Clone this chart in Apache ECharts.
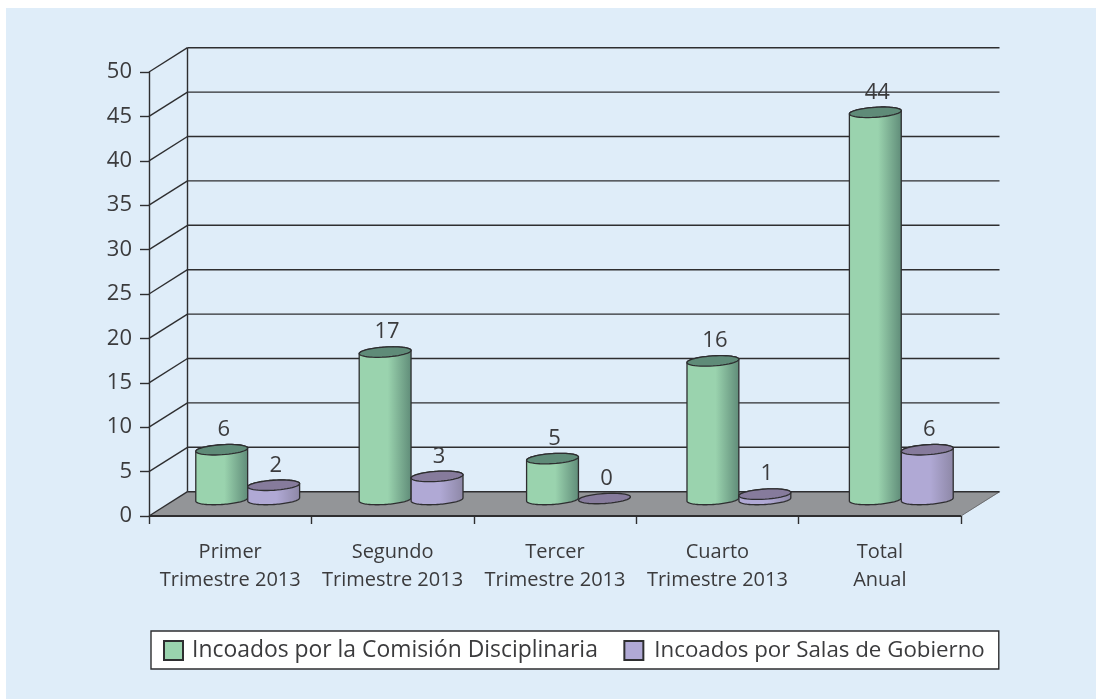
<!DOCTYPE html>
<html>
<head>
<meta charset="utf-8">
<title>Expedientes incoados 2013</title>
<style>
  html, body { margin: 0; padding: 0; background: #fff; }
  #panel { position: absolute; left: 6px; top: 8px; width: 1090px; height: 691px; background: #dfedf9; }
  #chart { position: absolute; left: 0; top: 0; width: 1096px; height: 699px; }
</style>
</head>
<body>
<div id="panel"></div>
<div id="chart"></div>
<script src="https://cdn.jsdelivr.net/npm/echarts@6/dist/echarts.min.js"></script>
<script>
const categories = ['Primer\nTrimestre 2013', 'Segundo\nTrimestre 2013', 'Tercer\nTrimestre 2013', 'Cuarto\nTrimestre 2013', 'Total\nAnual'];
const comision = [6, 17, 5, 16, 44];
const salas = [2, 3, 0, 1, 6];
const yTicks = [0, 5, 10, 15, 20, 25, 30, 35, 40, 45, 50];
const nameComision = 'Incoados por la Comisión Disciplinaria';
const nameSalas = 'Incoados por Salas de Gobierno';

const FONT = '"Open Sans", sans-serif';
const TEXT = '#3b3b3d';
const LINE = '#2e2e30';
// 3d look: how far the back wall sits from the front axes
const DEPTH_X = 38.5;
const DEPTH_Y = 24.3;
// cylinders stand part way into the floor
const BAR_DX = 17.5;
const BASE_DY = 16.5;
const TOP_DY = 13;
const TILT = -0.065;
// the pairs are not quite evenly spaced in the original
const PAIR_NUDGE = [0, 1, 6, 4, 4];

let chart = echarts.init(document.getElementById('chart'));

// points of a slightly tilted ellipse between two angles
function arc(cx, cy, rx, ry, from, to) {
  let pts = [];
  for (let i = 0; i <= 48; i++) {
    let a = from + (to - from) * i / 48;
    let px = rx * Math.cos(a);
    let py = ry * Math.sin(a);
    pts.push([cx + px * Math.cos(TILT) - py * Math.sin(TILT), cy + px * Math.sin(TILT) + py * Math.cos(TILT)]);
  }
  return pts;
}

function wallItem(params, api) {
  let sys = params.coordSys;
  let v = api.value(1);
  let y = api.coord([0, v])[1];
  let left = sys.x;
  let right = sys.x + sys.width;
  let lineStyle = { stroke: LINE, lineWidth: 1.4, fill: null };
  let children = [];
  if (v === 0) {
    children.push({
      type: 'polygon',
      shape: { points: [[left, y], [right, y], [right + DEPTH_X + 1, y - DEPTH_Y], [left + DEPTH_X, y - DEPTH_Y]] },
      style: { fill: '#939598', stroke: null }
    });
    children.push({ type: 'line', shape: { x1: left, y1: y, x2: right, y2: y }, style: { stroke: LINE, lineWidth: 2 } });
    children.push({ type: 'line', shape: { x1: right, y1: y, x2: right + DEPTH_X, y2: y - DEPTH_Y }, style: { stroke: '#6d6e71', lineWidth: 1 } });
    children.push({
      type: 'line',
      shape: { x1: left + DEPTH_X, y1: y - DEPTH_Y, x2: left + DEPTH_X, y2: sys.y - DEPTH_Y },
      style: { stroke: LINE, lineWidth: 1.4 }
    });
  }
  children.push({ type: 'line', shape: { x1: left, y1: y, x2: left + DEPTH_X, y2: y - DEPTH_Y }, style: lineStyle });
  children.push({ type: 'line', shape: { x1: left + DEPTH_X, y1: y - DEPTH_Y, x2: right + DEPTH_X, y2: y - DEPTH_Y }, style: lineStyle });
  return { type: 'group', children: children };
}

function cylinderItem(side, colors) {
  return function (params, api) {
    let idx = api.value(0);
    let v = api.value(1);
    let band = api.size([1, 0])[0];
    let w = band * 0.32;
    let rx = w / 2;
    let ry = 5;
    let p = api.coord([idx, v]);
    let base = api.coord([idx, 0])[1] - BASE_DY;
    let cx = p[0] + BAR_DX + PAIR_NUDGE[idx] + side * rx;
    let top = Math.min(p[1] - TOP_DY, base - 1);
    let stroke = { stroke: LINE, lineWidth: 1.3 };
    let children = [];
    if (v > 0) {
      children.push({
        type: 'polygon',
        shape: { points: arc(cx, top, rx, ry, Math.PI, 2 * Math.PI).concat(arc(cx, base, rx, ry, 0, Math.PI)) },
        style: Object.assign({
          fill: new echarts.graphic.LinearGradient(0, 0, 1, 0, [
            { offset: 0, color: colors.side },
            { offset: 0.55, color: colors.side },
            { offset: 1, color: colors.shade }
          ])
        }, stroke)
      });
    }
    children.push({
      type: 'polygon',
      shape: { points: arc(cx, top, rx, ry, 0, 2 * Math.PI) },
      style: Object.assign({ fill: colors.top }, stroke)
    });
    children.push({
      type: 'text',
      style: {
        x: cx + 2, y: top - 20, text: String(v), align: 'center', verticalAlign: 'middle',
        fill: TEXT, font: '22px ' + FONT
      }
    });
    return { type: 'group', children: children };
  };
}

function points(values) {
  return values.map((v, i) => [i, v]);
}

let option = {
  animation: false,
  textStyle: { fontFamily: FONT },
  grid: { left: 149, right: 135, top: 72, bottom: 183 },
  xAxis: {
    type: 'category',
    data: categories,
    z: 3,
    axisLine: { show: false },
    axisTick: { show: true, length: 8, lineStyle: { color: LINE, width: 1.4 } },
    axisLabel: { color: TEXT, fontSize: 20, lineHeight: 28, margin: 22, interval: 0, fontFamily: FONT }
  },
  yAxis: {
    type: 'value',
    min: 0,
    max: 50,
    interval: 5,
    z: 3,
    splitLine: { show: false },
    axisLine: { show: true, lineStyle: { color: LINE, width: 1.4 } },
    axisTick: { show: true, length: 9, lineStyle: { color: LINE, width: 1.4 } },
    axisLabel: { color: TEXT, fontSize: 22, margin: 17, fontFamily: FONT }
  },
  legend: {
    left: 151,
    top: 631,
    padding: [8, 14, 7, 12],
    itemGap: 25.5,
    itemWidth: 19,
    itemHeight: 19,
    backgroundColor: '#fff',
    borderColor: LINE,
    borderWidth: 1.4,
    borderRadius: 0,
    textStyle: { color: TEXT, fontSize: 22.9, padding: [0, 0, 0, 4], fontFamily: FONT },
    data: [
      { name: nameComision, icon: 'rect' },
      { name: nameSalas, icon: 'rect', textStyle: { color: TEXT, fontSize: 22.3, padding: [0, 0, 0, 6], fontFamily: FONT } }
    ]
  },
  series: [
    {
      type: 'custom',
      name: 'walls',
      silent: true,
      z: 1,
      renderItem: wallItem,
      encode: { y: 1 },
      data: yTicks.map(v => [0, v])
    },
    {
      type: 'custom',
      name: nameComision,
      silent: true,
      z: 2,
      itemStyle: { color: '#9ad3ae', borderColor: LINE, borderWidth: 1.2 },
      renderItem: cylinderItem(-1, { side: '#9ad3ae', shade: '#5f8b78', top: '#5f8b78' }),
      encode: { x: 0, y: 1 },
      data: points(comision)
    },
    {
      type: 'custom',
      name: nameSalas,
      silent: true,
      z: 3,
      itemStyle: { color: '#b0a9d5', borderColor: LINE, borderWidth: 1.2 },
      renderItem: cylinderItem(1, { side: '#b0a9d5', shade: '#8d87a6', top: '#867b9c' }),
      encode: { x: 0, y: 1 },
      data: points(salas)
    }
  ]
};

chart.setOption(option);
</script>
</body>
</html>
